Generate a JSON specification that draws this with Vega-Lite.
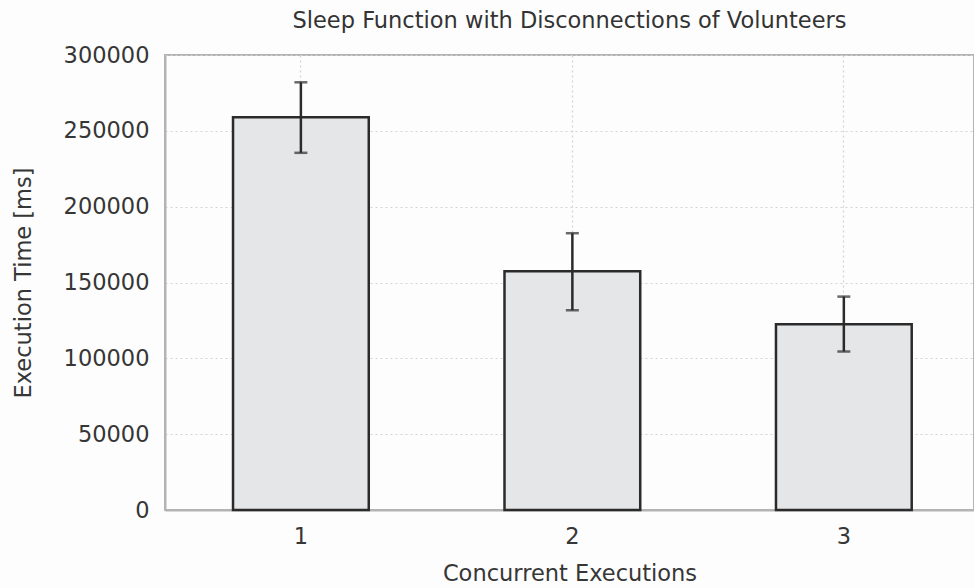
{
  "$schema": "https://vega.github.io/schema/vega-lite/v6.json",
  "autosize": {"type": "none"},
  "padding": {"left": 165, "top": 55, "right": 0, "bottom": 78},
  "width": 809,
  "height": 455,
  "background": "#fdfdfd",
  "title": {
    "text": "Sleep Function with Disconnections of Volunteers",
    "font": "DejaVu Sans",
    "fontSize": 22.5,
    "fontWeight": "normal",
    "color": "#333333",
    "offset": 12,
    "anchor": "middle"
  },
  "config": {
    "view": {"stroke": "#b3b3b3", "strokeWidth": 2},
    "axis": {
      "labelFont": "DejaVu Sans",
      "titleFont": "DejaVu Sans",
      "labelColor": "#363636",
      "titleColor": "#363636",
      "titleFontWeight": "normal",
      "domainColor": "#b3b3b3",
      "domainWidth": 2,
      "tickColor": "#b3b3b3",
      "gridColor": "#d3d3d3",
      "gridDash": [2, 3],
      "gridWidth": 1.2
    }
  },
  "data": {
    "values": [
      {"executions": "1", "mean": 259000, "lo": 235500, "hi": 282000},
      {"executions": "2", "mean": 157500, "lo": 131700, "hi": 182500},
      {"executions": "3", "mean": 122500, "lo": 104500, "hi": 140700}
    ]
  },
  "encoding": {
    "x": {
      "field": "executions",
      "type": "nominal",
      "scale": {"paddingInner": 0.5, "paddingOuter": 0.24, "align": 0.522},
      "axis": {
        "title": "Concurrent Executions",
        "titleFontSize": 22.5,
        "titlePadding": 15,
        "labelFontSize": 22.5,
        "labelAngle": 0,
        "labelPadding": 15,
        "tickSize": 0,
        "grid": true,
        "bandPosition": 0.5
      }
    }
  },
  "layer": [
    {
      "mark": {"type": "bar", "fill": "#e5e6e8", "stroke": "#2b2b2b", "strokeWidth": 2.5},
      "encoding": {
        "y": {
          "field": "mean",
          "type": "quantitative",
          "scale": {"domain": [0, 300000], "nice": false},
          "axis": {
            "title": "Execution Time [ms]",
            "titleFontSize": 22.5,
            "titlePadding": 28,
            "labelFontSize": 22.5,
            "labelPadding": 16,
            "values": [0, 50000, 100000, 150000, 200000, 250000, 300000],
            "tickSize": 0,
            "format": "d",
            "grid": true
          }
        }
      }
    },
    {
      "mark": {"type": "rule", "color": "#2b2b2b", "strokeWidth": 2.5},
      "encoding": {
        "y": {"field": "lo", "type": "quantitative"},
        "y2": {"field": "hi"}
      }
    },
    {
      "mark": {"type": "tick", "color": "#2b2b2b", "thickness": 2.5, "size": 13},
      "encoding": {"y": {"field": "lo", "type": "quantitative"}}
    },
    {
      "mark": {"type": "tick", "color": "#2b2b2b", "thickness": 2.5, "size": 13},
      "encoding": {"y": {"field": "hi", "type": "quantitative"}}
    }
  ]
}
